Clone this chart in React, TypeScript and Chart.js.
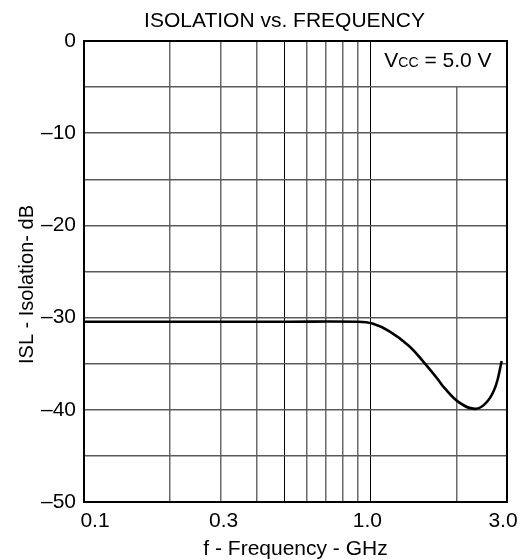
import React, { useEffect, useRef } from "react";
import { Chart, registerables } from "chart.js";

Chart.register(...registerables);

const chartTitle = "ISOLATION vs. FREQUENCY";
const xAxisTitle = "f - Frequency - GHz";
const yAxisTitle = "ISL - Isolation- dB";

// Curve: frequency (GHz) vs isolation (dB)
const freqGHz = [0.1, 0.5, 0.9, 1.017, 1.166, 1.368, 1.543, 1.712, 1.81, 2.04, 2.33, 2.56, 2.74, 2.875];
const isolationDb = [-30.45, -30.45, -30.45, -30.65, -31.5, -33.1, -34.9, -36.6, -37.6, -39.2, -39.9, -39.1, -37.4, -34.7];

// Axis ticks
const xGridTicks = [0.1, 0.2, 0.3, 0.4, 0.5, 0.6, 0.7, 0.8, 0.9, 1.0, 2.0, 3.0];
const xDarkTicks = [0.5, 1.0];
const xLabelTicks = [0.1, 0.3, 1.0, 3.0];
const xLabelText = ["0.1", "0.3", "1.0", "3.0"];
const yMin = -50;
const yMax = 0;
const yStep = 5;
const yLabelStep = 10;

const condition = { main: "V", sub: "CC", rest: " = 5.0 V" };
const boxFromFreq = 1.0;
const boxBottomDb = -5;

const FONT = "'Liberation Sans', Arial, Helvetica, sans-serif";
const xLabelShift = [11, 3, -3, -4];

export default function App() {
  const canvasRef = useRef<HTMLCanvasElement | null>(null);

  useEffect(() => {
    const canvas = canvasRef.current;
    if (!canvas) return;

    const overlay = {
      id: "overlay",
      beforeDatasetsDraw(chart: any) {
        const { ctx, chartArea: a, scales } = chart;
        const x = scales.x;
        const y = scales.y;
        ctx.save();
        const bx = x.getPixelForValue(boxFromFreq);
        const by = y.getPixelForValue(boxBottomDb);
        ctx.fillStyle = "#fff";
        ctx.fillRect(bx + 1, a.top + 1, a.right - bx - 2, by - a.top - 2);
        ctx.strokeStyle = "#000";
        ctx.lineWidth = 2;
        ctx.strokeRect(a.left, a.top, a.right - a.left, a.bottom - a.top);
        // condition text
        ctx.fillStyle = "#000";
        ctx.textBaseline = "alphabetic";
        ctx.textAlign = "left";
        let tx = bx + 14;
        const ty = a.top + 26;
        ctx.font = `21px ${FONT}`;
        ctx.fillText(condition.main, tx, ty);
        tx += ctx.measureText(condition.main).width;
        ctx.font = `14px ${FONT}`;
        ctx.fillText(condition.sub, tx, ty);
        tx += ctx.measureText(condition.sub).width;
        ctx.font = `21px ${FONT}`;
        ctx.fillText(condition.rest, tx, ty);
        ctx.restore();
      },
      afterDraw(chart: any) {
        const { ctx, chartArea: a, scales } = chart;
        const x = scales.x;
        ctx.save();
        ctx.fillStyle = "#000";
        ctx.font = `21px ${FONT}`;
        ctx.textBaseline = "alphabetic";
        ctx.textAlign = "center";
        // title
        ctx.fillText(chartTitle, (a.left + a.right) / 2 - 11, 27);
        // x tick labels
        xLabelTicks.forEach((v, i) => {
          ctx.fillText(xLabelText[i], x.getPixelForValue(v) + xLabelShift[i], a.bottom + 25);
        });
        // x axis title
        ctx.fillText(xAxisTitle, (a.left + a.right) / 2, 555);
        // y axis title
        ctx.font = `20px ${FONT}`;
        ctx.save();
        ctx.translate(33, (a.top + a.bottom) / 2 + 13);
        ctx.rotate(-Math.PI / 2);
        ctx.fillText(yAxisTitle, 0, 0);
        ctx.restore();
        ctx.restore();
      },
    };

    const chart = new Chart(canvas, {
      type: "line",
      data: {
        datasets: [
          {
            data: freqGHz.map((f, i) => ({ x: f, y: isolationDb[i] })),
            borderColor: "#000",
            borderWidth: 2.6,
            pointRadius: 0,
            fill: false,
            tension: 0.4,
          },
        ],
      },
      options: {
        responsive: false,
        animation: false,
        events: [],
        layout: { padding: { top: 41, right: 13, left: 0, bottom: 0 } },
        plugins: { legend: { display: false }, title: { display: false }, tooltip: { enabled: false } },
        scales: {
          x: {
            type: "logarithmic",
            min: 0.1,
            max: 3.0,
            afterBuildTicks: (s: any) => {
              s.ticks = xGridTicks.map((v) => ({ value: v }));
            },
            afterFit: (s: any) => {
              s.height = 58;
            },
            ticks: { display: false },
            border: { display: false },
            grid: {
              drawTicks: false,
              color: (c: any) => (xDarkTicks.includes(c.tick?.value) ? "#000" : "#6a6a6a"),
              lineWidth: (c: any) => (xDarkTicks.includes(c.tick?.value) ? 1 : 1.5),
            },
          },
          y: {
            type: "linear",
            min: yMin,
            max: yMax,
            afterFit: (s: any) => {
              s.width = 84;
            },
            ticks: {
              stepSize: yStep,
              padding: 8,
              color: "#000",
              font: { family: FONT, size: 21 },
              callback: (v: any) => {
                const n = Number(v);
                if (n % yLabelStep !== 0) return "";
                return n < 0 ? "\u2013" + Math.abs(n) : String(n);
              },
            },
            border: { display: false },
            grid: { drawTicks: false, color: "#5a5a5a", lineWidth: 1.5 },
          },
        },
      },
      plugins: [overlay],
    } as any);

    return () => chart.destroy();
  }, []);

  return (
    <div style={{ position: "absolute", left: 0, top: 0, width: 520, height: 560, background: "#fff" }}>
      <canvas ref={canvasRef} width={520} height={560} />
    </div>
  );
}
